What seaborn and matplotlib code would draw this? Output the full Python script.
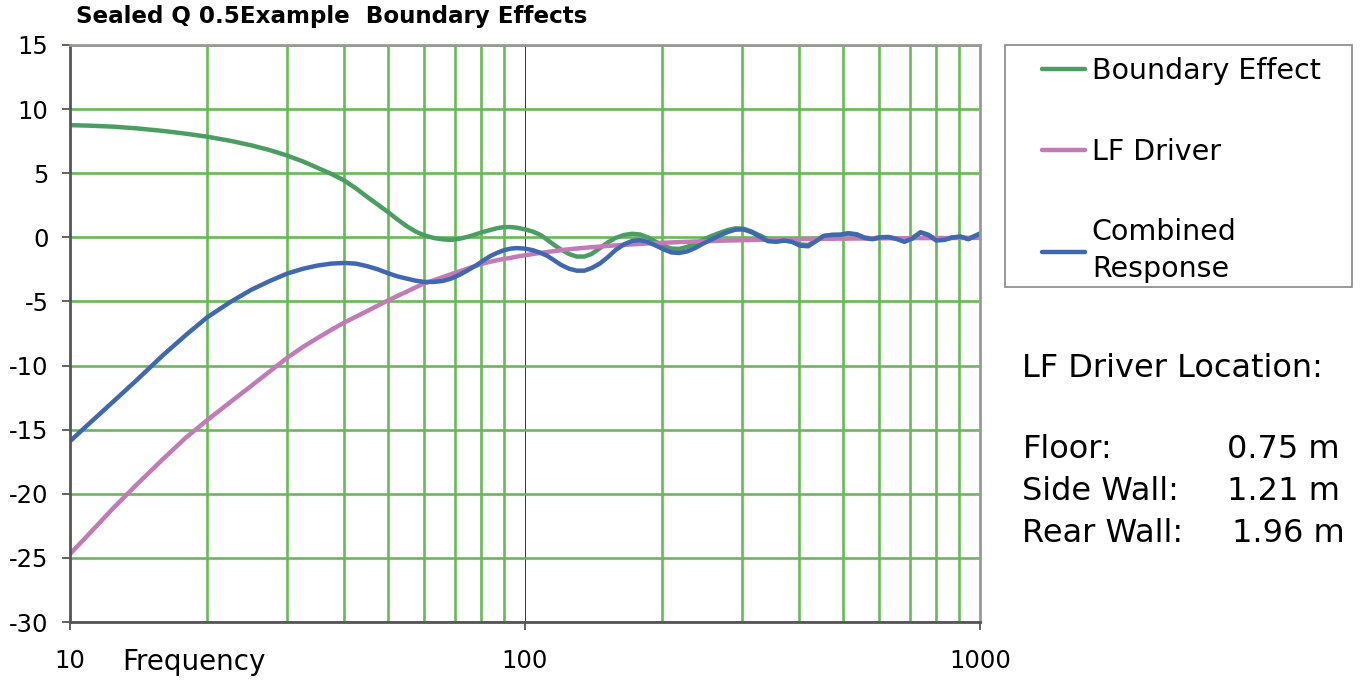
import matplotlib
matplotlib.use("Agg")
import matplotlib.pyplot as plt
import seaborn as sns
from matplotlib.patches import Rectangle

# Values (frequency in Hz, level in dB)
freq_hz = [10, 11, 12.5, 14, 16, 18, 20, 22.5, 25, 27.5, 30, 32.5, 35, 37.5, 40, 42.5, 45, 47.5,
           50, 52.5, 55, 57.5, 60, 63, 66, 69, 72, 75, 78, 81, 84, 87, 90, 93, 96,
           100, 104, 108, 112, 116, 120, 125, 130, 135, 140, 146, 152, 158, 165, 172, 179, 186,
           194, 202, 210, 218, 227, 236, 246, 256, 267, 278, 290, 302, 315, 328, 342, 356, 371,
           386, 402, 419, 436, 454, 473, 493, 513, 535, 557, 580, 604, 629, 655, 682, 710, 740,
           770, 802, 835, 870, 906, 943, 1000]

boundary_db = [8.75, 8.71, 8.63, 8.5, 8.3, 8.08, 7.85, 7.53, 7.18, 6.8, 6.38, 5.92, 5.42, 4.95,
               4.45, 3.82, 3.15, 2.55, 1.97, 1.38, 0.86, 0.45, 0.16, -0.05, -0.16, -0.2, -0.1,
               0.05, 0.24, 0.42, 0.58, 0.72, 0.8, 0.8, 0.75,
               0.62, 0.45, 0.2, -0.2, -0.6, -0.95, -1.3, -1.5, -1.5, -1.3, -0.85, -0.4, -0.05,
               0.18, 0.28, 0.22, 0.0, -0.35, -0.68, -0.88, -0.9, -0.75, -0.5, -0.2, 0.08, 0.33,
               0.55, 0.7, 0.68, 0.45, 0.15, -0.15, -0.3, -0.25, -0.3, -0.55, -0.6, -0.25, 0.1,
               0.2, 0.2, 0.3, 0.25, 0.0, -0.1, 0.02, 0.02, -0.1, -0.3, -0.05, 0.4, 0.2, -0.2,
               -0.15, 0.0, 0.05, -0.1, 0.3]

driver_db = [-24.7, -23.15, -21.05, -19.3, -17.3, -15.6, -14.27, -12.85, -11.6, -10.45, -9.4,
             -8.55, -7.85, -7.22, -6.66, -6.19, -5.75, -5.32, -4.92, -4.56, -4.23, -3.9, -3.6,
             -3.35, -3.1, -2.86, -2.64, -2.42, -2.22, -2.04, -1.9, -1.78, -1.68, -1.6, -1.5,
             -1.4, -1.3, -1.22, -1.14, -1.07, -1.0, -0.93, -0.87, -0.82, -0.77, -0.72, -0.67,
             -0.63, -0.59, -0.55, -0.51, -0.48, -0.45, -0.42, -0.4, -0.37, -0.35, -0.33, -0.31,
             -0.29, -0.27, -0.25, -0.24, -0.22, -0.21, -0.2, -0.18, -0.17, -0.16, -0.15, -0.14,
             -0.13, -0.12, -0.12, -0.11, -0.1, -0.1, -0.09, -0.09, -0.08, -0.08, -0.07, -0.07,
             -0.07, -0.06, -0.06, -0.06, -0.05, -0.05, -0.05, -0.05, -0.04, -0.04]

combined_db = [-15.9, -14.55, -12.75, -11.15, -9.2, -7.6, -6.25, -5.05, -4.1, -3.4, -2.83, -2.45,
               -2.2, -2.05, -2.0, -2.05, -2.25, -2.5, -2.8, -3.05, -3.22, -3.38, -3.48, -3.48,
               -3.4, -3.2, -2.9, -2.55, -2.2, -1.8, -1.45, -1.2, -1.0, -0.88, -0.84,
               -0.88, -1.0, -1.2, -1.45, -1.8, -2.15, -2.45, -2.6, -2.6, -2.4, -2.05, -1.55, -1.0,
               -0.55, -0.28, -0.22, -0.35, -0.65, -0.95, -1.18, -1.22, -1.1, -0.85, -0.5, -0.2,
               0.12, 0.4, 0.6, 0.62, 0.4, 0.05, -0.3, -0.35, -0.25, -0.35, -0.65, -0.7, -0.3,
               0.12, 0.18, 0.2, 0.32, 0.22, -0.05, -0.15, 0.0, 0.02, -0.12, -0.35, -0.1, 0.38,
               0.18, -0.25, -0.2, -0.02, 0.06, -0.15, 0.28]

series_names = ["Boundary Effect", "LF Driver", "Combined\nResponse"]
series_colors = ["#4a9e62", "#c27bb6", "#3f68b0"]

x_ticks = [10, 100, 1000]
x_tick_labels = ["10", "100", "1000"]
x_minor = [20, 30, 40, 50, 60, 70, 80, 90, 200, 300, 400, 500, 600, 700, 800, 900]
y_ticks = [-30, -25, -20, -15, -10, -5, 0, 5, 10, 15]

location_title = "LF Driver Location:"
location_labels = ["Floor:", "Side Wall:", "Rear Wall:"]
location_values = ["0.75 m", "1.21 m", "1.96 m"]

sns.set_style("white")
plt.rcParams["font.family"] = ["DejaVu Sans"]
plt.rcParams["text.color"] = "black"
plt.rcParams["axes.labelcolor"] = "black"
plt.rcParams["xtick.labelcolor"] = "black"
plt.rcParams["ytick.labelcolor"] = "black"

W, H = 1363, 687
fig = plt.figure(figsize=(W / 100, H / 100), dpi=100)
ax = fig.add_axes([70 / W, 65 / H, 910 / W, 577 / H])

grid_green = "#66bb55"
for values, name, color in zip([boundary_db, driver_db, combined_db], series_names, series_colors):
    sns.lineplot(x=freq_hz, y=values, color=color, linewidth=3.2, label=name,
                 ax=ax, sort=False, estimator=None)

ax.set_xscale("log")
ax.set_xlim(10, 1000)
ax.set_ylim(-30, 15)
ax.set_xticks(x_ticks)
ax.set_xticklabels(x_tick_labels)
ax.set_xticks(x_minor, minor=True)
ax.set_xticklabels([], minor=True)
ax.set_yticks(y_ticks)
ax.set_yticklabels([str(v) for v in y_ticks])

ax.grid(which="minor", axis="x", color=grid_green, linewidth=1.9)
ax.grid(which="major", axis="y", color=grid_green, linewidth=1.9)
ax.grid(which="major", axis="x", color="#333333", linewidth=0.7)
ax.set_axisbelow(True)

ax.tick_params(axis="both", which="major", labelsize=17.5, length=5.5, width=1.3,
               color="#555555", direction="out", left=True, bottom=True)
ax.tick_params(axis="y", pad=10)
ax.tick_params(axis="x", pad=14)
ax.tick_params(axis="x", which="minor", length=0)

for side in ["left", "bottom"]:
    ax.spines[side].set_color("#555555")
    ax.spines[side].set_linewidth(2)
for side in ["top", "right"]:
    ax.spines[side].set_color("#999999")
    ax.spines[side].set_linewidth(2)

ax.set_ylabel("")
ax.set_xlabel("Frequency", fontsize=20, ha="left", va="baseline")
ax.xaxis.set_label_coords((122.5 - 70) / 910, (622 - 670) / 577)

fig.text(76.5 / W, 1 - 22.7 / H, "Sealed Q 0.5Example  Boundary Effects",
         fontsize=16.6, fontweight="bold", ha="left", va="baseline")

# legend with a separate frame so the padding matches the original
leg = ax.legend(loc="upper left", bbox_to_anchor=(1042 / W, 1 - 57 / H),
                bbox_transform=fig.transFigure, frameon=False, fontsize=20.5,
                handlelength=1.5, handletextpad=0.25, labelspacing=1.85,
                borderpad=0, borderaxespad=0)
for t in leg.get_texts():
    t.set_linespacing(1.4)
fig.patches.append(Rectangle((1005 / W, 1 - 287 / H), 347 / W, 242 / H, transform=fig.transFigure,
                             fill=False, edgecolor="#888888", linewidth=1.2))

fig.text(1022.5 / W, 1 - 376.7 / H, location_title, fontsize=23, ha="left", va="baseline")
for label, value, base_y, value_x in zip(location_labels, location_values, [458.3, 500, 541.7],
                                         [1226.7, 1226.7, 1231.7]):
    fig.text(1022.5 / W, 1 - base_y / H, label, fontsize=23, ha="left", va="baseline")
    fig.text(value_x / W, 1 - base_y / H, value, fontsize=23, ha="left", va="baseline")

fig.savefig("out.png", dpi=100)
